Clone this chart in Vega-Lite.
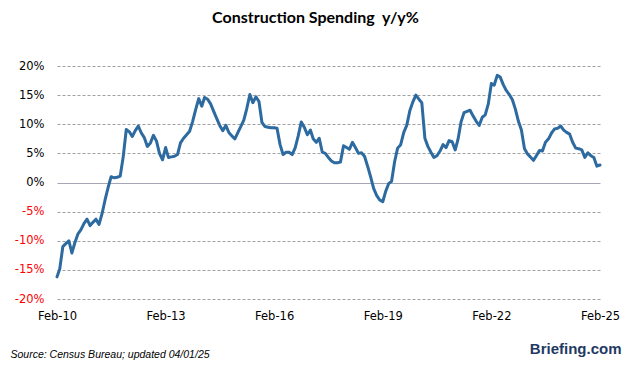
{
  "$schema": "https://vega.github.io/schema/vega-lite/v6.json",
  "autosize": "none",
  "padding": {"left": 57, "top": 66, "right": 26, "bottom": 68},
  "width": 543,
  "height": 233,
  "background": "white",
  "title": {
    "text": "Construction Spending \u00a0y/y%",
    "font": "Lato",
    "fontSize": 16,
    "fontWeight": "bold",
    "color": "#000000",
    "anchor": "middle",
    "dx": -13,
    "offset": 34
  },
  "config": {
    "view": {"stroke": null},
    "axis": {"domain": false, "ticks": false}
  },
  "data": {
    "values": [
      {"date": "2010-02-01", "v": -16.2}, {"date": "2010-03-01", "v": -14.8}, {"date": "2010-04-01", "v": -11.0}, {"date": "2010-05-01", "v": -10.5}, {"date": "2010-06-01", "v": -10.0}, {"date": "2010-07-01", "v": -12.1}, {"date": "2010-08-01", "v": -10.3}, {"date": "2010-09-01", "v": -8.8}, {"date": "2010-10-01", "v": -8.1}, {"date": "2010-11-01", "v": -7.0}, {"date": "2010-12-01", "v": -6.3},
      {"date": "2011-01-01", "v": -7.4}, {"date": "2011-02-01", "v": -6.8}, {"date": "2011-03-01", "v": -6.3}, {"date": "2011-04-01", "v": -7.2}, {"date": "2011-05-01", "v": -5.4}, {"date": "2011-06-01", "v": -3.0}, {"date": "2011-07-01", "v": -0.9}, {"date": "2011-08-01", "v": 1.0}, {"date": "2011-09-01", "v": 0.8}, {"date": "2011-10-01", "v": 0.9}, {"date": "2011-11-01", "v": 1.1}, {"date": "2011-12-01", "v": 4.4},
      {"date": "2012-01-01", "v": 9.1}, {"date": "2012-02-01", "v": 8.7}, {"date": "2012-03-01", "v": 7.9}, {"date": "2012-04-01", "v": 8.9}, {"date": "2012-05-01", "v": 9.7}, {"date": "2012-06-01", "v": 8.5}, {"date": "2012-07-01", "v": 7.7}, {"date": "2012-08-01", "v": 6.2}, {"date": "2012-09-01", "v": 6.8}, {"date": "2012-10-01", "v": 8.1}, {"date": "2012-11-01", "v": 7.1}, {"date": "2012-12-01", "v": 5.0},
      {"date": "2013-01-01", "v": 3.9}, {"date": "2013-02-01", "v": 6.0}, {"date": "2013-03-01", "v": 4.3}, {"date": "2013-04-01", "v": 4.4}, {"date": "2013-05-01", "v": 4.5}, {"date": "2013-06-01", "v": 4.8}, {"date": "2013-07-01", "v": 6.8}, {"date": "2013-08-01", "v": 7.6}, {"date": "2013-09-01", "v": 8.2}, {"date": "2013-10-01", "v": 8.8}, {"date": "2013-11-01", "v": 10.5}, {"date": "2013-12-01", "v": 12.5},
      {"date": "2014-01-01", "v": 14.4}, {"date": "2014-02-01", "v": 13.1}, {"date": "2014-03-01", "v": 14.6}, {"date": "2014-04-01", "v": 14.3}, {"date": "2014-05-01", "v": 13.5}, {"date": "2014-06-01", "v": 12.2}, {"date": "2014-07-01", "v": 11.0}, {"date": "2014-08-01", "v": 9.8}, {"date": "2014-09-01", "v": 8.9}, {"date": "2014-10-01", "v": 9.8}, {"date": "2014-11-01", "v": 8.6}, {"date": "2014-12-01", "v": 8.0},
      {"date": "2015-01-01", "v": 7.5}, {"date": "2015-02-01", "v": 8.6}, {"date": "2015-03-01", "v": 9.6}, {"date": "2015-04-01", "v": 10.7}, {"date": "2015-05-01", "v": 12.7}, {"date": "2015-06-01", "v": 15.1}, {"date": "2015-07-01", "v": 13.7}, {"date": "2015-08-01", "v": 14.7}, {"date": "2015-09-01", "v": 13.9}, {"date": "2015-10-01", "v": 10.3}, {"date": "2015-11-01", "v": 9.6}, {"date": "2015-12-01", "v": 9.5},
      {"date": "2016-01-01", "v": 9.4}, {"date": "2016-02-01", "v": 9.4}, {"date": "2016-03-01", "v": 9.3}, {"date": "2016-04-01", "v": 6.5}, {"date": "2016-05-01", "v": 4.8}, {"date": "2016-06-01", "v": 5.2}, {"date": "2016-07-01", "v": 5.2}, {"date": "2016-08-01", "v": 4.8}, {"date": "2016-09-01", "v": 6.0}, {"date": "2016-10-01", "v": 8.0}, {"date": "2016-11-01", "v": 10.4}, {"date": "2016-12-01", "v": 9.5},
      {"date": "2017-01-01", "v": 8.2}, {"date": "2017-02-01", "v": 9.0}, {"date": "2017-03-01", "v": 7.5}, {"date": "2017-04-01", "v": 6.9}, {"date": "2017-05-01", "v": 7.6}, {"date": "2017-06-01", "v": 5.2}, {"date": "2017-07-01", "v": 5.0}, {"date": "2017-08-01", "v": 4.3}, {"date": "2017-09-01", "v": 3.7}, {"date": "2017-10-01", "v": 3.4}, {"date": "2017-11-01", "v": 3.4}, {"date": "2017-12-01", "v": 3.5},
      {"date": "2018-01-01", "v": 6.3}, {"date": "2018-02-01", "v": 6.0}, {"date": "2018-03-01", "v": 5.7}, {"date": "2018-04-01", "v": 6.9}, {"date": "2018-05-01", "v": 6.0}, {"date": "2018-06-01", "v": 5.0}, {"date": "2018-07-01", "v": 5.1}, {"date": "2018-08-01", "v": 4.5}, {"date": "2018-09-01", "v": 2.8}, {"date": "2018-10-01", "v": 1.0}, {"date": "2018-11-01", "v": -1.0}, {"date": "2018-12-01", "v": -2.2},
      {"date": "2019-01-01", "v": -3.0}, {"date": "2019-02-01", "v": -3.3}, {"date": "2019-03-01", "v": -1.6}, {"date": "2019-04-01", "v": -0.2}, {"date": "2019-05-01", "v": 0.2}, {"date": "2019-06-01", "v": 3.6}, {"date": "2019-07-01", "v": 5.9}, {"date": "2019-08-01", "v": 6.5}, {"date": "2019-09-01", "v": 8.6}, {"date": "2019-10-01", "v": 9.8}, {"date": "2019-11-01", "v": 12.3}, {"date": "2019-12-01", "v": 13.8},
      {"date": "2020-01-01", "v": 15.0}, {"date": "2020-02-01", "v": 14.3}, {"date": "2020-03-01", "v": 13.7}, {"date": "2020-04-01", "v": 7.6}, {"date": "2020-05-01", "v": 6.2}, {"date": "2020-06-01", "v": 5.2}, {"date": "2020-07-01", "v": 4.3}, {"date": "2020-08-01", "v": 4.6}, {"date": "2020-09-01", "v": 5.4}, {"date": "2020-10-01", "v": 6.5}, {"date": "2020-11-01", "v": 6.0}, {"date": "2020-12-01", "v": 7.2},
      {"date": "2021-01-01", "v": 7.0}, {"date": "2021-02-01", "v": 5.6}, {"date": "2021-03-01", "v": 7.4}, {"date": "2021-04-01", "v": 10.4}, {"date": "2021-05-01", "v": 12.0}, {"date": "2021-06-01", "v": 12.2}, {"date": "2021-07-01", "v": 12.4}, {"date": "2021-08-01", "v": 11.4}, {"date": "2021-09-01", "v": 10.5}, {"date": "2021-10-01", "v": 9.8}, {"date": "2021-11-01", "v": 11.2}, {"date": "2021-12-01", "v": 11.6},
      {"date": "2022-01-01", "v": 13.5}, {"date": "2022-02-01", "v": 17.0}, {"date": "2022-03-01", "v": 16.7}, {"date": "2022-04-01", "v": 18.4}, {"date": "2022-05-01", "v": 18.1}, {"date": "2022-06-01", "v": 16.8}, {"date": "2022-07-01", "v": 15.8}, {"date": "2022-08-01", "v": 15.1}, {"date": "2022-09-01", "v": 14.2}, {"date": "2022-10-01", "v": 12.6}, {"date": "2022-11-01", "v": 10.5}, {"date": "2022-12-01", "v": 9.0},
      {"date": "2023-01-01", "v": 5.8}, {"date": "2023-02-01", "v": 4.9}, {"date": "2023-03-01", "v": 4.4}, {"date": "2023-04-01", "v": 3.8}, {"date": "2023-05-01", "v": 4.6}, {"date": "2023-06-01", "v": 5.5}, {"date": "2023-07-01", "v": 5.4}, {"date": "2023-08-01", "v": 6.9}, {"date": "2023-09-01", "v": 7.5}, {"date": "2023-10-01", "v": 8.5}, {"date": "2023-11-01", "v": 9.2}, {"date": "2023-12-01", "v": 9.3},
      {"date": "2024-01-01", "v": 9.7}, {"date": "2024-02-01", "v": 9.0}, {"date": "2024-03-01", "v": 8.6}, {"date": "2024-04-01", "v": 8.3}, {"date": "2024-05-01", "v": 6.9}, {"date": "2024-06-01", "v": 5.9}, {"date": "2024-07-01", "v": 5.8}, {"date": "2024-08-01", "v": 5.6}, {"date": "2024-09-01", "v": 4.3}, {"date": "2024-10-01", "v": 5.1}, {"date": "2024-11-01", "v": 4.6}, {"date": "2024-12-01", "v": 4.3},
      {"date": "2025-01-01", "v": 2.8}, {"date": "2025-02-01", "v": 3.0}
    ]
  },
  "mark": {"type": "line", "color": "#2d6aa0", "strokeWidth": 3, "strokeJoin": "round", "strokeCap": "round"},
  "encoding": {
    "x": {
      "field": "date",
      "type": "temporal",
      "scale": {
        "type": "utc",
        "domain": [
          {"year": 2010, "month": 2, "date": 1, "utc": true},
          {"year": 2025, "month": 2, "date": 1, "utc": true}
        ]
      },
      "axis": {
        "values": [
          {"year": 2010, "month": 2, "date": 1, "utc": true},
          {"year": 2013, "month": 2, "date": 1, "utc": true},
          {"year": 2016, "month": 2, "date": 1, "utc": true},
          {"year": 2019, "month": 2, "date": 1, "utc": true},
          {"year": 2022, "month": 2, "date": 1, "utc": true},
          {"year": 2025, "month": 2, "date": 1, "utc": true}
        ],
        "tickCount": 20,
        "labelExpr": "utcFormat(datum.value, '%b-%y')",
        "grid": false,
        "labelFont": "DejaVu Sans",
        "labelFontSize": 11.5,
        "labelColor": "#000000",
        "labelPadding": 11,
        "labelFlush": false,
        "labelOverlap": false,
        "title": "Briefing.com",
        "titleFont": "Liberation Sans",
        "titleFontSize": 15,
        "titleFontWeight": "bold",
        "titleColor": "#1f3a63",
        "titleAlign": "right",
        "titleBaseline": "middle",
        "titleAnchor": null,
        "titleX": 564,
        "titleY": 49
      }
    },
    "y": {
      "field": "v",
      "type": "quantitative",
      "scale": {"domain": [-20, 20], "nice": false, "zero": false},
      "axis": {
        "values": [-20, -15, -10, -5, 0, 5, 10, 15, 20],
        "tickCount": 12,
        "labelExpr": "datum.value + '%'",
        "labelOverlap": false,
        "labelFont": "DejaVu Sans",
        "labelFontSize": 11.5,
        "labelColor": {"condition": {"test": "datum.value < 0", "value": "#ff0000"}, "value": "#000000"},
        "labelPadding": 13,
        "grid": true,
        "gridColor": {"condition": {"test": "datum.value === 0", "value": "#a6a6b4"}, "value": "#a0a0a0"},
        "gridDash": {"condition": {"test": "datum.value === 0", "value": []}, "value": [3, 2]},
        "gridWidth": 1,
        "title": "Source: Census Bureau; updated 04/01/25",
        "titleAngle": 0,
        "titleFont": "Liberation Sans",
        "titleFontSize": 10.5,
        "titleFontStyle": "italic",
        "titleFontWeight": "normal",
        "titleColor": "#000000",
        "titleAlign": "left",
        "titleBaseline": "middle",
        "titleAnchor": null,
        "titleX": -47,
        "titleY": 288
      }
    }
  }
}
